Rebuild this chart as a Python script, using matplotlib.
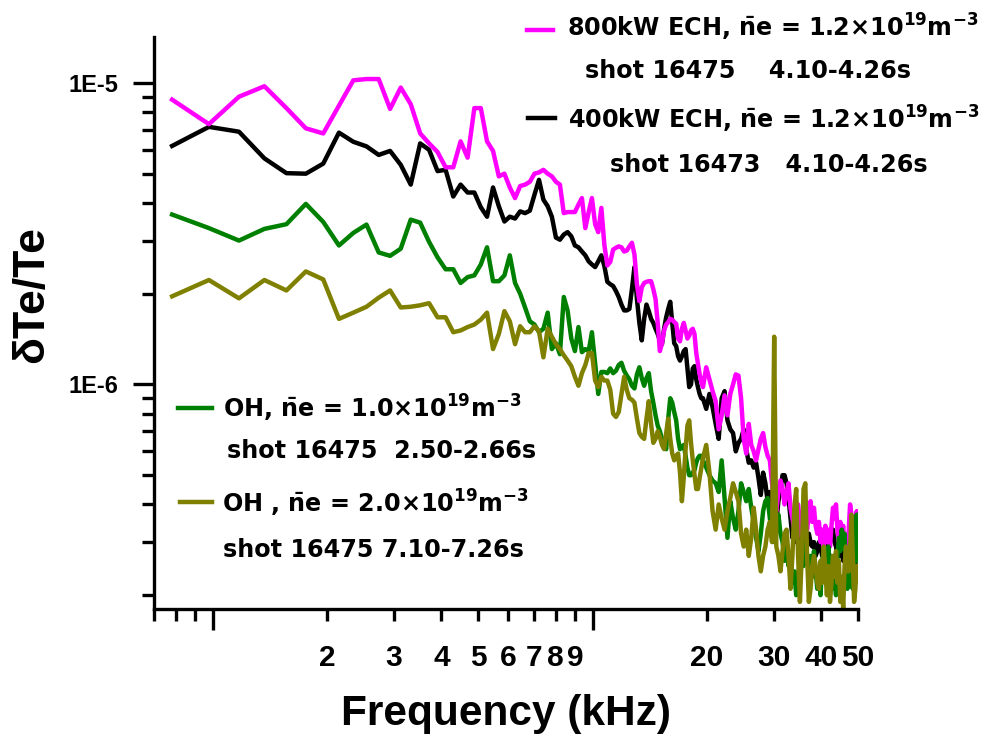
import numpy as np
import matplotlib
matplotlib.use('Agg')
import matplotlib.pyplot as plt
from matplotlib.lines import Line2D

plt.rcParams['font.family'] = ['Liberation Sans', 'DejaVu Sans']
plt.rcParams['font.weight'] = 'bold'
plt.rcParams['mathtext.fontset'] = 'custom'
plt.rcParams['mathtext.rm'] = 'DejaVu Sans:bold'
plt.rcParams['mathtext.it'] = 'DejaVu Sans:bold'
plt.rcParams['mathtext.bf'] = 'DejaVu Sans:bold'

# FFT bin spacing (kHz); every bin up to k=100, every second bin above
df = 0.1953125
k_bins = np.r_[4:101, 102:257:2]
freq = k_bins * df

# dTe/Te, in units of 1e-6
ech800 = [
    8.8, 7.3, 9.0, 9.75, 8.25, 7.07, 6.8, 8.4, 10.2, 10.3,
    10.3, 8.2, 9.65, 8.5, 6.8, 6.3, 5.9, 5.25, 5.25, 6.4,
    5.65, 8.25, 8.25, 6.4, 5.95, 4.9, 5.0, 4.5, 4.15, 4.55,
    4.6, 4.7, 5.0, 5.05, 5.15, 5.0, 4.9, 4.7, 4.6, 3.7,
    3.73, 3.73, 3.73, 3.95, 4.15, 3.3, 3.73, 4.15, 3.4, 3.2,
    3.85, 2.9, 2.48, 2.55, 2.8, 2.84, 2.87, 2.85, 2.76, 2.78,
    2.87, 2.95, 2.7, 2.15, 1.89, 2.1, 2.17, 2.19, 2.2, 2.2,
    2.07, 1.92, 1.6, 1.29, 1.37, 1.51, 1.58, 1.61, 1.65, 1.64,
    1.61, 1.59, 1.42, 1.39, 1.53, 1.6, 1.51, 1.42, 1.45, 1.51,
    1.53, 1.47, 1.27, 1.17, 1.08, 1.02, 0.98,
    1.14, 1.04, 0.95, 0.88, 0.71, 0.79, 0.92, 0.79, 0.93, 1.0,
    1.08, 1.07, 0.9, 0.66, 0.59, 0.74, 0.63, 0.6, 0.56, 0.61,
    0.66, 0.69, 0.62, 0.58, 0.56, 0.47, 0.41, 0.38, 0.44, 0.48,
    0.45, 0.40, 0.44, 0.47, 0.39, 0.36, 0.33, 0.38, 0.40, 0.35,
    0.31, 0.34, 0.38, 0.33, 0.37, 0.41, 0.35, 0.39, 0.34, 0.32,
    0.35, 0.30, 0.33, 0.29, 0.34, 0.30, 0.33, 0.29, 0.34, 0.39,
    0.36, 0.40, 0.33, 0.30, 0.35, 0.31, 0.34, 0.29, 0.31, 0.27,
    0.33, 0.40, 0.37, 0.31, 0.27, 0.34, 0.38, 0.34,
]
ech400 = [
    6.18, 7.15, 6.89, 5.62, 5.02, 5.0, 5.4, 6.84, 6.38, 6.16,
    5.77, 5.95, 5.35, 4.6, 6.3, 6.0, 5.1, 5.15, 4.2, 4.6,
    4.33, 4.33, 3.87, 3.6, 4.5, 3.9, 3.47, 3.6, 3.55, 3.75,
    3.7, 3.77, 4.26, 4.77, 4.1, 3.9, 3.6, 3.07, 3.02, 3.14,
    3.2, 3.1, 2.89, 2.85, 2.76, 2.68, 2.56, 2.5, 2.45, 2.56,
    2.68, 2.47, 2.19, 2.15, 2.12, 2.04, 1.95, 1.84, 1.76, 1.76,
    1.78, 2.07, 2.45, 1.92, 1.6, 1.4, 1.65, 1.84, 1.75, 1.65,
    1.6, 1.53, 1.47, 1.4, 1.36, 1.53, 1.67, 1.78, 1.88, 1.6,
    1.37, 1.34, 1.24, 1.2, 1.24, 1.29, 1.31, 1.13, 0.98, 1.0,
    1.13, 1.15, 1.04, 0.98, 0.93, 0.9, 0.9,
    0.83, 0.93, 0.84, 0.74, 0.66, 0.9, 0.95, 0.76, 0.71, 0.69,
    0.6, 0.64, 0.66, 0.71, 0.61, 0.55, 0.56, 0.53, 0.55, 0.49,
    0.43, 0.51, 0.47, 0.41, 0.44, 0.39, 0.36, 0.35, 0.41, 0.45,
    0.5, 0.5, 0.47, 0.42, 0.36, 0.31, 0.33, 0.30, 0.32, 0.29,
    0.30, 0.28, 0.31, 0.29, 0.32, 0.30, 0.29, 0.30, 0.27, 0.28,
    0.30, 0.29, 0.27, 0.29, 0.31, 0.29, 0.30, 0.32, 0.31, 0.33,
    0.30, 0.29, 0.27, 0.29, 0.27, 0.28, 0.26, 0.27, 0.25, 0.26,
    0.28, 0.26, 0.25, 0.27, 0.24, 0.26, 0.27, 0.26,
]
oh_10 = [
    3.66, 3.3, 3.0, 3.28, 3.4, 3.97, 3.46, 2.89, 3.18, 3.39,
    2.74, 2.67, 2.82, 3.52, 3.44, 2.97, 2.64, 2.41, 2.41, 2.17,
    2.27, 2.3, 2.5, 2.85, 2.2, 2.2, 2.3, 2.68, 2.17, 2.0,
    1.8, 1.62, 1.58, 1.49, 1.53, 1.73, 1.31, 1.37, 1.26, 1.95,
    1.76, 1.42, 1.29, 1.55, 1.28, 1.31, 1.29, 1.49, 1.17, 0.93,
    1.1, 1.1, 1.09, 1.13, 1.09, 1.11, 1.16, 1.18, 1.11, 1.07,
    1.04, 0.99, 0.97, 1.08, 1.14, 1.05, 0.99, 1.05, 1.09, 0.95,
    0.87, 0.79, 0.73, 0.70, 0.66, 0.64, 0.61, 0.77, 0.9, 0.87,
    0.81, 0.76, 0.66, 0.61, 0.62, 0.63, 0.58, 0.53, 0.5, 0.5,
    0.51, 0.52, 0.55, 0.57, 0.58, 0.58, 0.56,
    0.53, 0.5, 0.48, 0.47, 0.44, 0.56, 0.42, 0.31, 0.41, 0.36,
    0.33, 0.38, 0.47, 0.44, 0.41, 0.45, 0.39, 0.35, 0.31, 0.28,
    0.32, 0.38, 0.41, 0.42, 0.36, 0.31, 0.3, 0.33, 0.37, 0.32,
    0.30, 0.26, 0.30, 0.25, 0.27, 0.22, 0.24, 0.20, 0.23, 0.26,
    0.29, 0.25, 0.30, 0.27, 0.24, 0.27, 0.23, 0.28, 0.24, 0.21,
    0.24, 0.20, 0.26, 0.28, 0.23, 0.26, 0.29, 0.24, 0.27, 0.21,
    0.24, 0.20, 0.27, 0.31, 0.28, 0.33, 0.29, 0.32, 0.25, 0.21,
    0.26, 0.29, 0.23, 0.21, 0.27, 0.33, 0.37, 0.26,
]
oh_20 = [
    1.96, 2.22, 1.93, 2.22, 2.05, 2.37, 2.23, 1.65, 1.73, 1.81,
    1.94, 2.05, 1.8, 1.81, 1.83, 1.86, 1.67, 1.67, 1.49, 1.51,
    1.55, 1.58, 1.64, 1.73, 1.31, 1.47, 1.75, 1.62, 1.36, 1.56,
    1.49, 1.49, 1.56, 1.5, 1.23, 1.53, 1.44, 1.36, 1.31, 1.25,
    1.2, 1.15, 1.06, 0.99, 1.09, 1.16, 1.27, 1.27, 1.03, 0.98,
    1.06, 1.03, 1.03, 0.96, 0.8, 0.78, 0.81, 0.93, 1.06, 0.96,
    0.9, 0.89, 0.87, 0.77, 0.69, 0.67, 0.66, 0.77, 0.88, 0.74,
    0.64, 0.66, 0.7, 0.67, 0.63, 0.61, 0.69, 0.77, 0.66, 0.59,
    0.56, 0.58, 0.59, 0.51, 0.41, 0.49, 0.61, 0.73, 0.76, 0.64,
    0.56, 0.5, 0.45, 0.45, 0.49, 0.53, 0.57,
    0.63, 0.51, 0.38, 0.33, 0.4, 0.36, 0.33, 0.38, 0.42, 0.47,
    0.44, 0.41, 0.32, 0.29, 0.33, 0.27, 0.31, 0.39, 0.33, 0.27,
    0.24, 0.27, 0.29, 0.33, 0.35, 0.3, 1.44, 0.29, 0.27, 0.24,
    0.28, 0.32, 0.33, 0.27, 0.21, 0.27, 0.39, 0.45, 0.27, 0.19,
    0.27, 0.45, 0.47, 0.27, 0.19, 0.21, 0.25, 0.27, 0.25, 0.22,
    0.21, 0.26, 0.22, 0.29, 0.24, 0.20, 0.25, 0.19, 0.22, 0.27,
    0.23, 0.28, 0.22, 0.26, 0.19, 0.23, 0.18, 0.25, 0.29, 0.24,
    0.24, 0.28, 0.37, 0.27, 0.19, 0.21, 0.25, 0.24,
]

series_colors = {'ech800': '#ff00ff', 'ech400': '#000000',
                 'oh_10': '#008000', 'oh_20': '#808000'}

x_major_ticks = [1, 10]
x_minor_ticks = [0.7, 0.8, 0.9, 2, 3, 4, 5, 6, 7, 8, 9, 20, 30, 40, 50]
x_minor_labels = ['', '', '', '2', '3', '4', '5', '6', '7', '8', '9',
                  '20', '30', '40', '50']
y_major_ticks = [1e-6, 1e-5]
y_major_labels = ['1E-6', '1E-5']
y_minor_ticks = [2e-7, 3e-7, 4e-7, 5e-7, 6e-7, 7e-7, 8e-7, 9e-7,
                 2e-6, 3e-6, 4e-6, 5e-6, 6e-6, 7e-6, 8e-6, 9e-6]

NE = r'$\bar{n}$e'
legend_lines = [
    ('ech800', '800kW ECH, ' + NE + r' = 1.2$\times$10$^{19}$m$^{-3}$',
     'shot 16475    4.10-4.26s'),
    ('ech400', '400kW ECH, ' + NE + r' = 1.2$\times$10$^{19}$m$^{-3}$',
     'shot 16473   4.10-4.26s'),
    ('oh_10', 'OH, ' + NE + r' = 1.0$\times$10$^{19}$m$^{-3}$',
     'shot 16475  2.50-2.66s'),
    ('oh_20', 'OH , ' + NE + r' = 2.0$\times$10$^{19}$m$^{-3}$',
     'shot 16475 7.10-7.26s'),
]

W, H = 990, 738
fig = plt.figure(figsize=(W / 100, H / 100), dpi=100)
ax = fig.add_axes([154 / W, 1 - 609 / H, (858 - 154) / W, (609 - 37) / H])

data = {'ech800': ech800, 'ech400': ech400, 'oh_10': oh_10, 'oh_20': oh_20}
for name in ['ech400', 'ech800', 'oh_10', 'oh_20']:
    vals = np.array(data[name]) * 1e-6
    assert len(vals) == len(freq), (name, len(vals))
    ax.plot(freq, vals, color=series_colors[name], lw=3.2,
            solid_joinstyle='round')

ax.set_xscale('log')
ax.set_yscale('log')
ax.set_xlim(0.7, 50)
ax.set_ylim(1.8e-7, 1.42e-5)

for s in ['top', 'right']:
    ax.spines[s].set_visible(False)
for s in ['left', 'bottom']:
    ax.spines[s].set_linewidth(2.4)

ax.set_xticks(x_major_ticks)
ax.set_xticklabels(['', ''])
ax.set_xticks(x_minor_ticks, minor=True)
ax.set_xticklabels(x_minor_labels, minor=True)
ax.set_yticks(y_major_ticks)
ax.set_yticklabels(y_major_labels)
ax.set_yticks(y_minor_ticks, minor=True)
ax.set_yticklabels([''] * len(y_minor_ticks), minor=True)

ax.tick_params(axis='both', which='major', direction='out', length=15, width=2.4)
ax.tick_params(axis='both', which='minor', direction='out', length=8.5, width=2.4)
ax.tick_params(axis='x', which='minor', labelsize=21.5, pad=17)
ax.tick_params(axis='y', which='major', labelsize=17, pad=11)

fig.text(506 / W, 1 - 725 / H, 'Frequency (kHz)', ha='center', va='baseline',
         fontsize=30.5, fontweight='bold')
fig.text(43 / W, 1 - 295 / H, '\u03b4Te/Te', rotation=90, rotation_mode='anchor',
         ha='center', va='baseline', fontsize=32, fontweight='bold')

# hand placed legend: (line x0, x1, y), (text1 x, baseline), (text2 x, baseline)
legend_pos = [
    ((527, 553, 30), (567, 37), (585, 78)),
    ((528, 555, 118), (568, 129), (610, 172)),
    ((178, 212, 408), (223, 418), (227, 458)),
    ((180, 212, 502), (222, 513), (223, 557)),
]
for (name, t1, t2), (ln, p1, p2) in zip(legend_lines, legend_pos):
    fig.add_artist(Line2D([ln[0] / W, ln[1] / W], [1 - ln[2] / H] * 2,
                          transform=fig.transFigure,
                          color=series_colors[name], lw=3.2))
    fig.text(p1[0] / W, 1 - p1[1] / H, t1, ha='left', va='baseline',
             fontsize=17.2, family='DejaVu Sans', fontweight='bold')
    fig.text(p2[0] / W, 1 - p2[1] / H, t2, ha='left', va='baseline',
             fontsize=17.2, family='DejaVu Sans', fontweight='bold')

fig.savefig('out.png', dpi=100)
